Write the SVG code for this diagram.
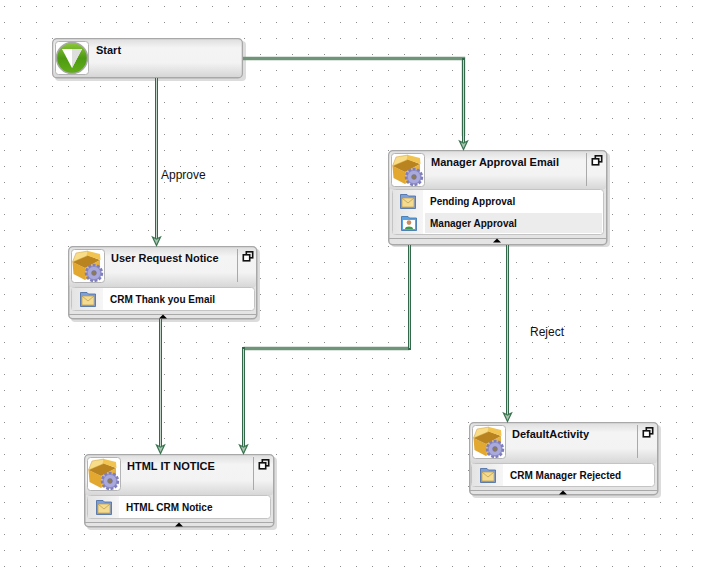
<svg xmlns="http://www.w3.org/2000/svg" width="705" height="573" viewBox="0 0 705 573">
<style>
.title{font:bold 11px "Liberation Sans",Arial,sans-serif;fill:#0c0c14}
.item{font:bold 10px "Liberation Sans",Arial,sans-serif;fill:#0c0c14}
.edge-label{font:12px "Liberation Sans",Arial,sans-serif;fill:#111}
.shadow{fill:#dcdcdc}
.frame{fill:#e4e4e4;stroke:#a8a8a8;stroke-width:1.5}
.head-band{fill:url(#headGrad)}
.iconbox{fill:#fff;stroke:#b4b4b4}
.body{fill:#fff;stroke:#c4c4c4}
.rule{stroke:#a9a9a9;fill:none}
.wire{fill:none;stroke:#6f9579;stroke-width:3.4}
.wire-v{fill:none;stroke:#33694a;stroke-width:3}
.wire-c{fill:none;stroke:#c4d6c9;stroke-width:1}
.head{fill:#a9c4b1;stroke:#3a7550;stroke-width:1.2}
</style>
<defs>
<pattern id="grid" width="16" height="16" patternUnits="userSpaceOnUse" x="4" y="6">
<rect width="1" height="1" fill="#8c8c8c"/>
</pattern>
<linearGradient id="headGrad" x1="0" y1="0" x2="0" y2="1">
<stop offset="0" stop-color="#dfdfdf"/><stop offset=".22" stop-color="#f4f4f4"/><stop offset=".62" stop-color="#f3f3f3"/><stop offset="1" stop-color="#d6d6d6"/>
</linearGradient>
<linearGradient id="ball" x1="0" y1="0" x2="0" y2="1">
<stop offset="0" stop-color="#8ec83c"/><stop offset=".5" stop-color="#4d9a12"/><stop offset="1" stop-color="#62ae18"/>
</linearGradient>
<linearGradient id="box" x1="0" y1="0" x2="1" y2="1">
<stop offset="0" stop-color="#f5cc60"/><stop offset="1" stop-color="#d89a26"/>
</linearGradient>
<linearGradient id="strip" x1="0" y1="0" x2="1" y2="0">
<stop offset="0" stop-color="#e4e4e4"/><stop offset="1" stop-color="#f6f6f6"/>
</linearGradient>
<!-- open carton with a cog in front of it -->
<g id="activity-icon">
<rect class="iconbox" x=".5" y=".5" width="33" height="33" rx="3"/>
<path d="M1.500 13 14 19 14 31 2.500 25Z" fill="#e2a830"/>
<path d="M14 19 29 11 29 23 14 31Z" fill="url(#box)"/>
<path d="M1.500 13 16 6 29 11 14 19Z" fill="#b9831f"/>
<path d="M1.500 13 5 4 17 2 16 7Z" fill="#f8dc88" stroke="#cf9c34" stroke-width=".5"/>
<path d="M17 2 29 5 29.500 11 16 6.500Z" fill="#f1c452"/>
<circle cx="23" cy="24" r="7.800" fill="#a9a8da" stroke="#7f7ebb" stroke-width="2.800" stroke-dasharray="2.800 1.600"/>
<circle cx="23" cy="24" r="6.600" fill="#aaa9dc" stroke="#8281bd" stroke-width=".6"/>
<circle cx="23" cy="24" r="2.400" fill="#8d7b52" stroke="#6f6ea8" stroke-width=".6"/>
</g>
<g id="restore-icon" fill="none" stroke="#111" stroke-width="1.6">
<rect x="3.800" y=".8" width="6.400" height="6"/>
<rect x=".8" y="3.800" width="6.400" height="6" fill="#fff"/>
</g>
<g id="mail-icon">
<path d="M.5 1.500H7L8.500 3H15.500V15.500H.5Z" fill="#7f9fd6" stroke="#45689f" stroke-width=".8"/>
<rect x="2" y="5" width="12" height="9" fill="#f4db92" stroke="#b8974a" stroke-width=".6"/>
<path d="M2 5 8 10 14 5" fill="none" stroke="#b8974a" stroke-width=".7"/>
</g>
<g id="user-icon">
<path d="M.5 1.500H7L8.500 3H15.500V15.500H.5Z" fill="#5aa4e6" stroke="#3b6ea8" stroke-width=".8"/>
<rect x="2" y="5" width="12" height="9" fill="#fff"/>
<circle cx="8" cy="7.600" r="2.300" fill="#c98d5e"/>
<path d="M4 14C4 10.800 12 10.800 12 14Z" fill="#3e9a46"/>
</g>
<path id="collapse" d="M-4 4.500 0 .5 4 4.500Z" fill="#000"/>
</defs>

<rect width="705" height="573" fill="#fff"/>
<rect width="705" height="573" fill="url(#grid)"/>

<g id="node-start">
<rect class="shadow" x="55" y="41" width="191" height="40" rx="4"/>
<rect class="frame" x="52.750" y="38.750" width="189.500" height="39" rx="4"/>
<rect class="head-band" x="53.500" y="39.500" width="188" height="37.500" rx="3.500"/>
<rect class="iconbox" x="55.500" y="41.500" width="33" height="33" rx="3"/>
<circle cx="72" cy="58" r="15.500" fill="url(#ball)" stroke="#a8a8a8" stroke-width="1.500"/>
<path d="M62 49H82L72 68Z" fill="#fff"/>
<path d="M72 49H82L72 68Z" fill="#dedede"/>
<text class="title" x="96" y="54">Start</text>
</g>

<g id="node-manager-approval-email">
<rect class="shadow" x="391" y="153" width="219" height="94" rx="4"/>
<rect class="frame" x="388.750" y="150.750" width="218" height="94" rx="4"/>
<rect class="head-band" x="389.500" y="151.500" width="216.500" height="38" rx="3.500"/>
<use href="#activity-icon" x="391" y="153"/>
<path class="rule" d="M586.500 153V186"/>
<use href="#restore-icon" x="591.500" y="155"/>
<rect class="body" x="392.500" y="189.500" width="211" height="45" rx="3"/>
<rect x="393" y="190" width="30" height="44" fill="url(#strip)"/>
<rect x="425" y="213" width="177" height="20" fill="#ececec"/>
<use href="#mail-icon" x="400" y="193"/>
<use href="#user-icon" x="401" y="215"/>
<text class="item" x="430" y="204.500">Pending Approval</text>
<text class="item" x="430" y="226.500">Manager Approval</text>
<path class="rule" d="M389 238.500H606"/>
<use href="#collapse" x="497" y="238"/>
<text class="title" x="431" y="166">Manager Approval Email</text>
</g>

<g id="node-user-request-notice">
<rect class="shadow" x="71" y="249" width="189" height="73" rx="4"/>
<rect class="frame" x="68.750" y="246.750" width="188" height="72" rx="4"/>
<rect class="head-band" x="69.500" y="247.500" width="186.500" height="40" rx="3.500"/>
<use href="#activity-icon" x="71" y="249"/>
<path class="rule" d="M237.500 249V282"/>
<use href="#restore-icon" x="242.500" y="251"/>
<rect class="body" x="71.500" y="287.500" width="183" height="23" rx="3"/>
<rect x="72" y="288" width="31" height="22" fill="url(#strip)"/>
<use href="#mail-icon" x="80" y="291"/>
<text class="item" x="110" y="302.500">CRM Thank you Email</text>
<path class="rule" d="M69 314.500H256"/>
<use href="#collapse" x="163" y="314"/>
<text class="title" x="111" y="262">User Request Notice</text>
</g>

<g id="node-html-it-notice">
<rect class="shadow" x="87" y="457" width="190" height="73" rx="4"/>
<rect class="frame" x="84.750" y="454.750" width="189" height="72" rx="4"/>
<rect class="head-band" x="85.500" y="455.500" width="187.500" height="40" rx="3.500"/>
<use href="#activity-icon" x="87" y="457"/>
<path class="rule" d="M253.500 457V490"/>
<use href="#restore-icon" x="258.500" y="459"/>
<rect class="body" x="87.500" y="495.500" width="183" height="23" rx="3"/>
<rect x="88" y="496" width="31" height="22" fill="url(#strip)"/>
<use href="#mail-icon" x="96" y="499"/>
<text class="item" x="126" y="510.500">HTML CRM Notice</text>
<path class="rule" d="M85 522.500H273"/>
<use href="#collapse" x="179" y="522"/>
<text class="title" x="127" y="470">HTML IT NOTICE</text>
</g>

<g id="node-default-activity">
<rect class="shadow" x="472" y="425" width="189" height="73" rx="4"/>
<rect class="frame" x="469.750" y="422.750" width="188" height="72" rx="4"/>
<rect class="head-band" x="470.500" y="423.500" width="186.500" height="40" rx="3.500"/>
<use href="#activity-icon" x="472" y="425"/>
<path class="rule" d="M637.500 425V458"/>
<use href="#restore-icon" x="642.500" y="427"/>
<rect class="body" x="471.500" y="463.500" width="183" height="23" rx="3"/>
<rect x="472" y="464" width="31" height="22" fill="url(#strip)"/>
<use href="#mail-icon" x="480" y="467"/>
<text class="item" x="510" y="478.500">CRM Manager Rejected</text>
<path class="rule" d="M470 490.500H657"/>
<use href="#collapse" x="563" y="490"/>
<text class="title" x="512" y="438">DefaultActivity</text>
</g>

<g id="connectors">
<path class="wire" d="M243 58.500H463.500V136"/>
<path class="wire-v" d="M463.500 58V142"/>
<path class="wire-c" d="M463.500 60V142"/>
<path class="wire-v" d="M156.500 78V238"/>
<path class="wire-c" d="M156.500 78V238"/>
<path class="wire-v" d="M160.500 319V446"/>
<path class="wire-c" d="M160.500 319V446"/>
<path class="wire" d="M409.500 348.500H243.500"/>
<path class="wire-v" d="M409.500 245V350M243.500 347V446"/>
<path class="wire-c" d="M409.500 245V348M243.500 349V446"/>
<path class="wire-v" d="M507.500 245V414"/>
<path class="wire-c" d="M507.500 245V414"/>
<path class="head" d="M459.500 141 463.500 143 467.500 141 463.500 149.500Z"/>
<path class="head" d="M152.500 237 156.500 239 160.500 237 156.500 245.500Z"/>
<path class="head" d="M156.500 445 160.500 447 164.500 445 160.500 453.500Z"/>
<path class="head" d="M239.500 445 243.500 447 247.500 445 243.500 453.500Z"/>
<path class="head" d="M503.500 413 507.500 415 511.500 413 507.500 421.500Z"/>
<text class="edge-label" x="161" y="179">Approve</text>
<text class="edge-label" x="530" y="336">Reject</text>
</g>
</svg>
